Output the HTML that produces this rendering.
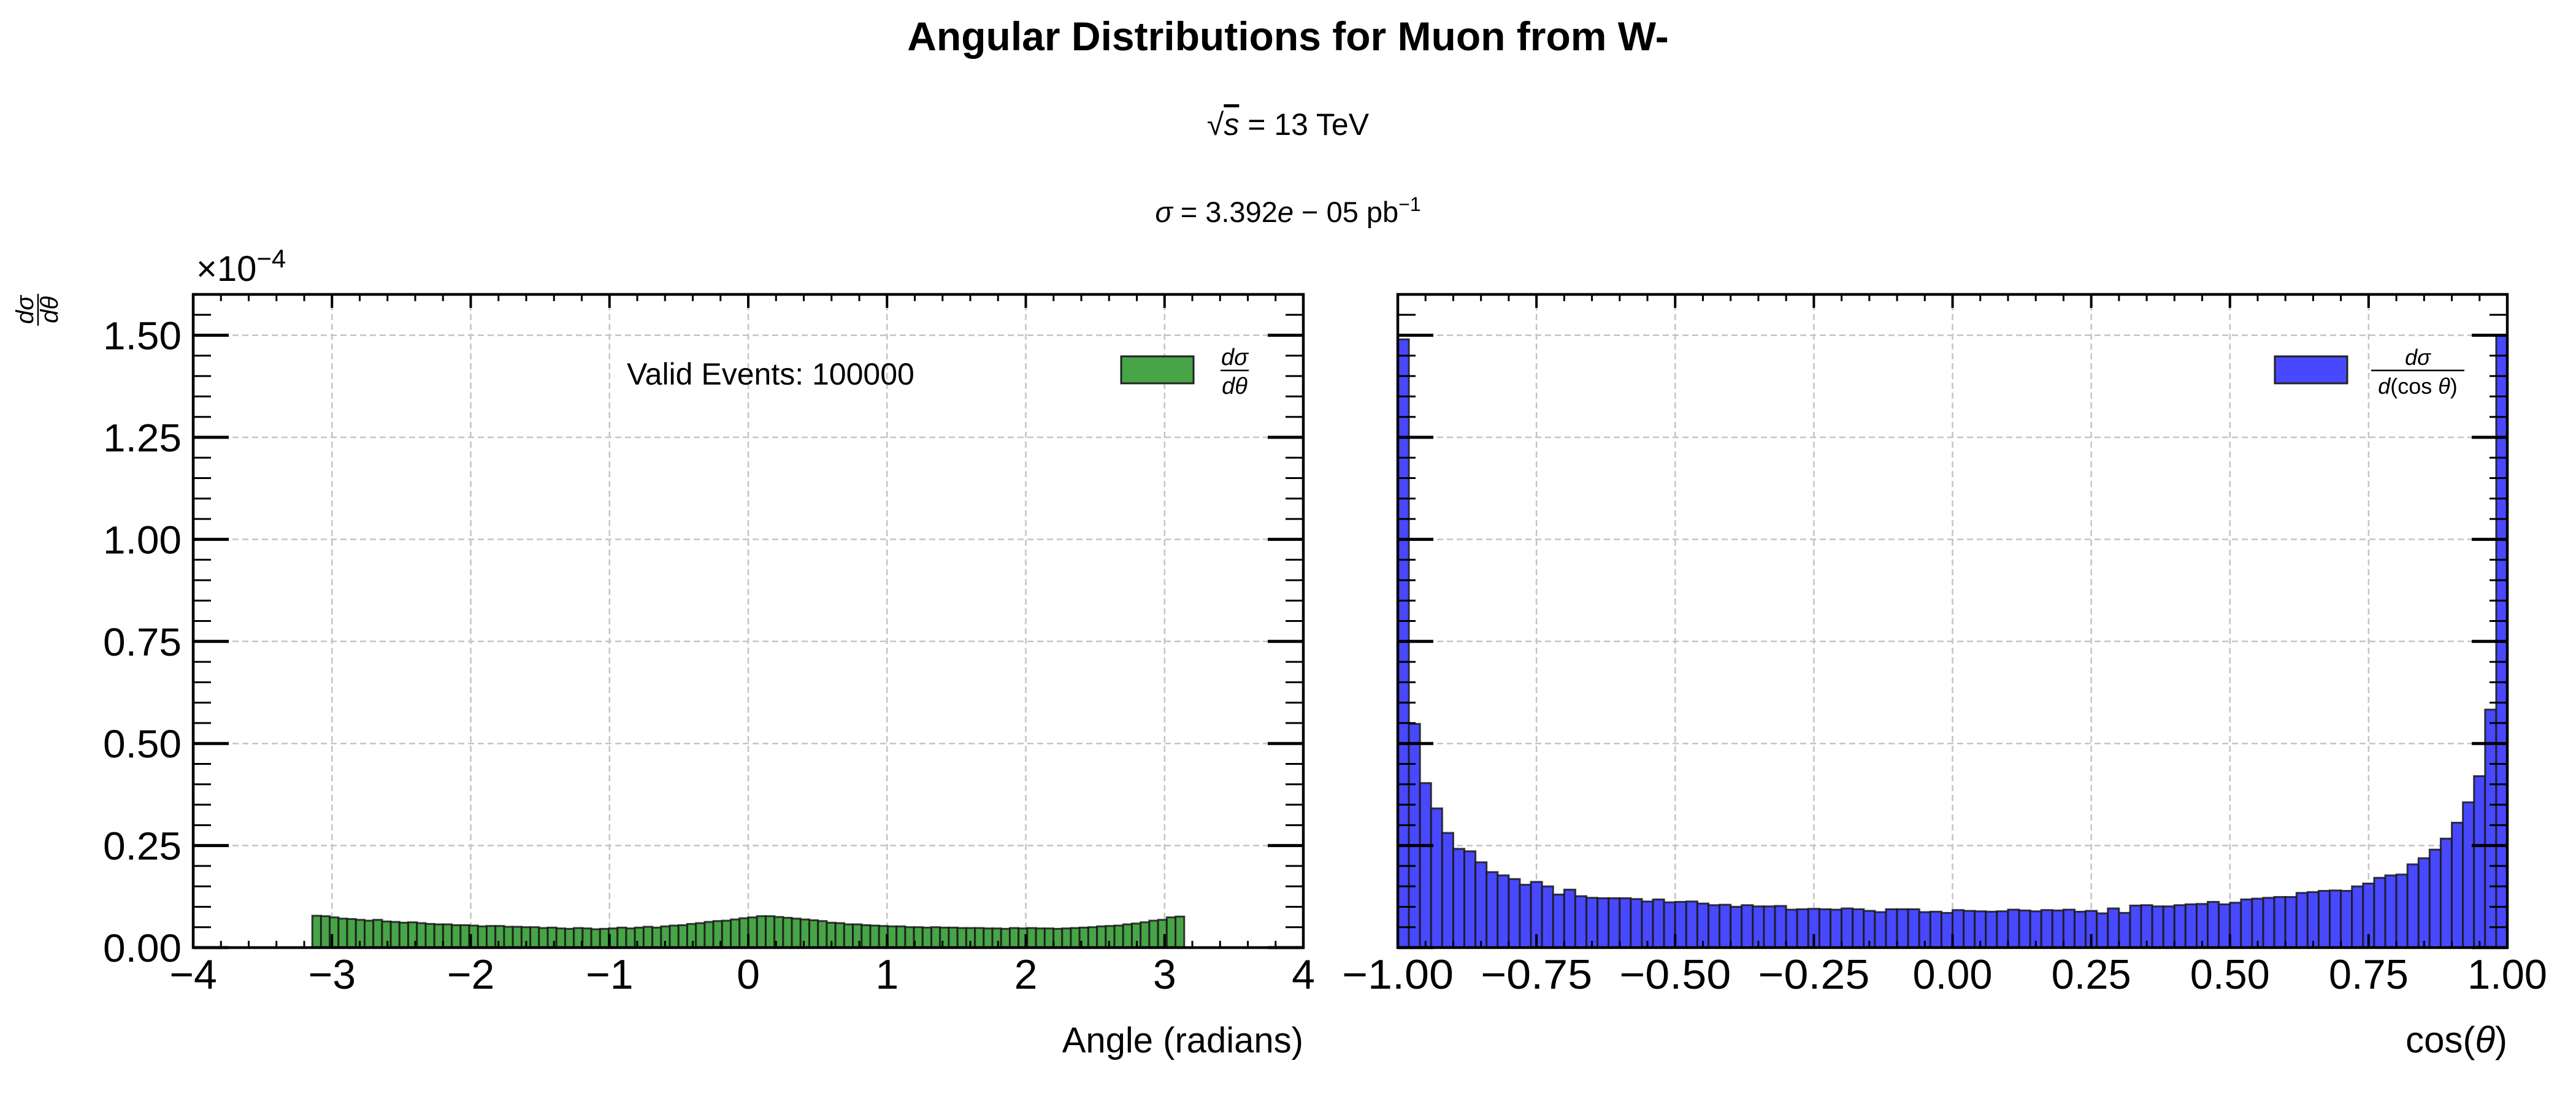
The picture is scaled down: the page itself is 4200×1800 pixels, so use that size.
<!DOCTYPE html>
<html><head><meta charset="utf-8"><style>
body{margin:0;background:#fff}
svg{display:block;font-family:"Liberation Sans",sans-serif}
</style></head><body>
<svg id="fig" width="4200" height="1800" viewBox="0 0 4200 1800" xmlns="http://www.w3.org/2000/svg">
<rect width="4200" height="1800" fill="#fff"/>
<text x="2100" y="82" text-anchor="middle" font-size="66" font-weight="bold">Angular Distributions for Muon from W-</text>
<text x="2100" y="220" text-anchor="middle" font-size="50">√<tspan font-style="italic" text-decoration="overline">s</tspan> = 13 TeV</text>
<text x="2100" y="362" text-anchor="middle" font-size="47"><tspan font-style="italic">σ</tspan> = 3.392<tspan font-style="italic">e</tspan> − 05 pb<tspan dy="-18" font-size="32">−1</tspan></text>
<g id="left"></g>
<g id="right"></g>
</svg>
<script>
const leftValues=[0.078,0.077,0.074,0.071,0.070,0.068,0.066,0.068,0.064,0.063,
0.061,0.062,0.060,0.058,0.057,0.057,0.055,0.055,0.054,0.052,
0.053,0.053,0.051,0.051,0.050,0.050,0.048,0.049,0.047,0.046,
0.048,0.047,0.045,0.046,0.047,0.049,0.047,0.049,0.051,0.049,
0.052,0.054,0.055,0.058,0.060,0.063,0.065,0.066,0.069,0.072,
0.074,0.077,0.077,0.075,0.073,0.071,0.069,0.067,0.065,0.061,
0.060,0.057,0.057,0.055,0.054,0.053,0.052,0.052,0.050,0.050,
0.049,0.050,0.049,0.049,0.048,0.048,0.048,0.047,0.047,0.046,
0.048,0.047,0.048,0.047,0.047,0.046,0.047,0.048,0.049,0.050,
0.052,0.053,0.054,0.057,0.059,0.062,0.066,0.068,0.074,0.076];
const rightValues=[1.49,0.548,0.403,0.341,0.281,0.242,0.236,0.209,0.185,0.177,0.168,0.154,0.161,0.150,0.130,0.142,0.126,0.122,0.121,
0.121,0.121,0.119,0.113,0.118,0.111,0.112,0.113,0.108,0.104,0.105,0.100,0.104,0.101,0.101,0.102,0.093,0.094,0.095,0.094,0.093,0.096,0.094,0.090,0.087,
0.094,0.094,0.094,0.087,0.088,0.085,0.092,0.090,0.089,0.088,0.089,0.093,
0.091,0.089,0.092,0.091,0.093,0.088,0.090,0.084,0.096,0.085,0.103,0.104,0.101,0.101,0.104,
0.106,0.107,0.112,0.106,0.110,0.118,0.120,0.122,0.124,0.124,0.134,0.136,0.139,0.140,0.139,
0.150,0.157,0.171,0.177,0.179,0.204,0.219,0.240,0.267,0.306,0.356,0.420,0.583,1.500];
const leftXTicks=[-4,-3,-2,-1,0,1,2,3,4];
const leftXLabels=["−4","−3","−2","−1","0","1","2","3","4"];
const rightXTicks=[-1,-0.75,-0.5,-0.25,0,0.25,0.5,0.75,1];
const rightXLabels=["−1.00","−0.75","−0.50","−0.25","0.00","0.25","0.50","0.75","1.00"];
const yTicks=[0,0.25,0.5,0.75,1,1.25,1.5];
const yLabels=["0.00","0.25","0.50","0.75","1.00","1.25","1.50"];

const NS="http://www.w3.org/2000/svg";
function mk(p,tag,at){const e=document.createElementNS(NS,tag);for(const k in at)e.setAttribute(k,at[k]);p.appendChild(e);return e;}
const TOP=480,BOT=1545,YMAX=1.6;
function yS(v){return BOT-(v/YMAX)*(BOT-TOP);}

function panel(g,X0,X1,xmin,xmax,xt,xl,xminor,vals,bmin,bmax,color,showY,xlabelW){
  const xS=v=>X0+(v-xmin)/(xmax-xmin)*(X1-X0);
  xt.forEach(t=>{const l=mk(g,'line',{x1:xS(t),x2:xS(t),y1:TOP,y2:BOT,stroke:'#c4c4c4','stroke-width':2.5,'stroke-dasharray':'10,6'});
    
    });
  yTicks.forEach(t=>{const l=mk(g,'line',{x1:X0,x2:X1,y1:yS(t),y2:yS(t),stroke:'#c4c4c4','stroke-width':2.5,'stroke-dasharray':'10,6'});
    
    });
  const n=vals.length,w=(bmax-bmin)/n;
  vals.forEach((v,i)=>{const xa=xS(bmin+i*w),xb=xS(bmin+(i+1)*w);
    const r=mk(g,'rect',{x:xa,y:yS(v),width:xb-xa,height:BOT-yS(v),fill:color,stroke:'#1a1a1a','stroke-width':3,'stroke-opacity':0.85});
    
    });
  const tk=mk(g,'g',{stroke:'#000'});
  
  
  xt.forEach(t=>{const x=xS(t);mk(tk,'line',{x1:x,x2:x,y1:BOT,y2:BOT-22,'stroke-width':4});mk(tk,'line',{x1:x,x2:x,y1:TOP,y2:TOP+22,'stroke-width':4});});
  for(let t=xmin;t<=xmax+1e-9;t+=xminor){const x=xS(t);mk(tk,'line',{x1:x,x2:x,y1:BOT,y2:BOT-11,'stroke-width':3});mk(tk,'line',{x1:x,x2:x,y1:TOP,y2:TOP+11,'stroke-width':3});}
  yTicks.forEach(t=>{const y=yS(t);mk(tk,'line',{x1:X0,x2:X0+58,y1:y,y2:y,'stroke-width':5});mk(tk,'line',{x1:X1,x2:X1-58,y1:y,y2:y,'stroke-width':5});});
  for(let t=0;t<=1.6+1e-9;t+=0.05){const y=yS(t);mk(tk,'line',{x1:X0,x2:X0+29,y1:y,y2:y,'stroke-width':3});mk(tk,'line',{x1:X1,x2:X1-29,y1:y,y2:y,'stroke-width':3});}
  const fr=mk(g,'rect',{x:X0,y:TOP,width:X1-X0,height:BOT-TOP,fill:'none',stroke:'#000','stroke-width':4.5});
  
  
  xt.forEach((t,i)=>{const tx=mk(g,'text',{x:xS(t),y:1612,'text-anchor':'middle','font-size':68});
    if(xlabelW)tx.setAttribute('textLength',xl[i].length>4?182:130),tx.setAttribute('lengthAdjust','spacingAndGlyphs');
    tx.textContent=xl[i];
    
    });
  if(showY)yTicks.forEach((t,i)=>{const tx=mk(g,'text',{x:296,y:yS(t)+23,'text-anchor':'end','font-size':64,textLength:128,lengthAdjust:'spacingAndGlyphs'});
    tx.textContent=yLabels[i];
    
    });
}
const L=document.getElementById('left'),R=document.getElementById('right');
panel(L,315,2125,-4,4,leftXTicks,leftXLabels,0.2,leftValues,-Math.PI,Math.PI,'#47a447',true,false);
panel(R,2279,4088,-1,1,rightXTicks,rightXLabels,0.05,rightValues,-1,1,'#4848ff',false,true);

const extra=`
<text x="320" y="458" font-size="58">×10<tspan dy="-22" font-size="42">−4</tspan></text>
<g transform="translate(62,505) rotate(-90)" font-size="40" font-style="italic" text-anchor="middle">
<text x="0" y="-8">dσ</text><line x1="-26" x2="26" y1="0" y2="0" stroke="#000" stroke-width="2.5"/><text x="0" y="32">dθ</text></g>
<text x="1022" y="627" font-size="50">Valid Events: 100000</text>
<rect x="1828" y="581" width="118" height="44" fill="#47a447" stroke="#222" stroke-width="3"/>
<g font-size="38" font-style="italic" text-anchor="middle">
<text x="2013" y="595">dσ</text><line x1="1990" x2="2036" y1="604" y2="604" stroke="#000" stroke-width="2.5"/><text x="2013" y="642">dθ</text></g>
<rect x="3709" y="581" width="118" height="44" fill="#4848ff" stroke="#222" stroke-width="3"/>
<g font-size="36" text-anchor="middle">
<text x="3942" y="595" font-style="italic">dσ</text><line x1="3866" x2="4018" y1="604" y2="604" stroke="#000" stroke-width="2.5"/><text x="3942" y="642"><tspan font-style="italic">d</tspan>(cos <tspan font-style="italic">θ</tspan>)</text></g>
<text x="2125" y="1716" text-anchor="end" font-size="58">Angle (radians)</text>
<text x="4088" y="1716" text-anchor="end" font-size="60">cos(<tspan font-style="italic">θ</tspan>)</text>`;
document.getElementById('fig').insertAdjacentHTML('beforeend',extra);
</script>
</body></html>
